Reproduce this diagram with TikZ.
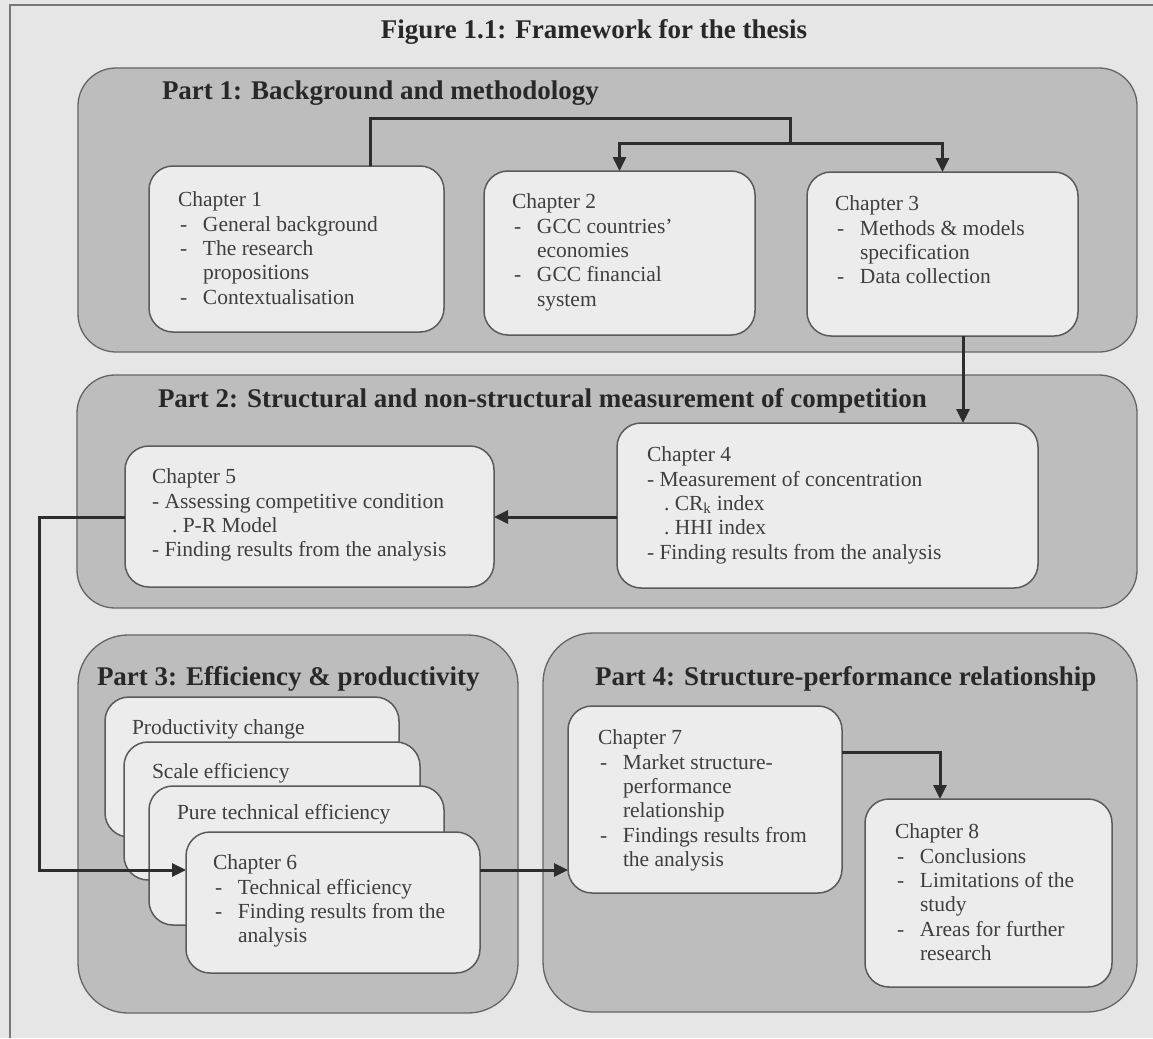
\documentclass[tikz,border=0pt]{standalone}
\usepackage{fontspec}
\setmainfont{Liberation Serif}
\usetikzlibrary{arrows.meta}
\definecolor{pagebg}{RGB}{230,230,230}
\definecolor{panelfill}{RGB}{189,189,189}
\definecolor{boxfill}{RGB}{236,236,236}
\definecolor{boxline}{RGB}{90,90,90}
\definecolor{panelline}{RGB}{100,100,100}
\definecolor{conncol}{RGB}{45,45,45}
\definecolor{txtcol}{RGB}{62,62,62}
\definecolor{headcol}{RGB}{40,40,40}
\definecolor{framecol}{RGB}{120,120,120}
\newcommand\Bdash{\makebox[25pt][l]{\hspace{2pt}-}}
\newcommand\Bcont{\makebox[25pt]{}}
\begin{document}
\begin{tikzpicture}[x=1pt,y=-1pt,
  panel/.style={draw=panelline, fill=panelfill, line width=1.3pt, rounded corners=38pt, inner sep=0pt, outer sep=0pt, anchor=north west},
  bigpanel/.style={panel, rounded corners=50pt},
  chbox/.style={draw=boxline, fill=boxfill, line width=1.5pt, rounded corners=24pt, inner sep=0pt, outer sep=0pt, anchor=north west},
  chtext/.style={anchor=north west, align=left, inner sep=0pt, outer sep=0pt, text=txtcol, font=\fontsize{21.5}{24.3}\selectfont},
  lbl/.style={anchor=base west, inner sep=0pt, outer sep=0pt, text=txtcol, font=\fontsize{21.5}{24.3}\selectfont},
  head/.style={anchor=base west, inner sep=0pt, outer sep=0pt, text=headcol, font=\bfseries\fontsize{27}{31}\selectfont},
  conn/.style={draw=conncol, line width=3pt},
  arr/.style={conn, -{Triangle[width=13pt,length=14pt]}}
]
\useasboundingbox (0,0) rectangle (1153,1038);
\fill[pagebg] (0,0) rectangle (1153,1038);
\draw[framecol, line width=1.5pt] (10,1038) -- (10,5) -- (1153,5);

% title
\node[anchor=base, inner sep=0pt, text=headcol, font=\bfseries\fontsize{27}{31}\selectfont] (title) at (594,39) {Figure 1.1: Framework for the thesis};

% panels
\node[panel, minimum width=1059pt, minimum height=284pt] (p1) at (78,68) {};
\node[panel, minimum width=1060pt, minimum height=233pt] (p2) at (77,375) {};
\node[bigpanel, minimum width=440pt, minimum height=378pt] (p3) at (78,635) {};
\node[bigpanel, minimum width=594pt, minimum height=379pt] (p4) at (543,633) {};

\node[head] (h1) at (162,100) {Part 1: Background and methodology};
\node[head] (h2) at (158,407) {Part 2: Structural and non-structural measurement of competition};
\node[head] (h3) at (97,685) {Part 3: Efficiency \& productivity};
\node[head] (h4) at (595,685) {Part 4: Structure-performance relationship};

% chapter boxes
\node[chbox, minimum width=295pt, minimum height=166pt] (ch1) at (149,166) {};
\node[chbox, minimum width=271pt, minimum height=164pt] (ch2) at (484,171) {};
\node[chbox, minimum width=271pt, minimum height=164pt] (ch3) at (807,172) {};
\node[chbox, minimum width=421pt, minimum height=165pt] (ch4) at (617,423) {};
\node[chbox, minimum width=369pt, minimum height=141pt] (ch5) at (125,446) {};
\node[chbox, minimum width=294pt, minimum height=140pt] (prod) at (105,697) {};
\node[chbox, minimum width=296pt, minimum height=138pt] (scale) at (124,742) {};
\node[chbox, minimum width=295pt, minimum height=139pt] (pure) at (149,786) {};
\node[chbox, minimum width=294pt, minimum height=141pt] (ch6) at (186,832) {};
\node[chbox, minimum width=274pt, minimum height=187pt] (ch7) at (568,706) {};
\node[chbox, minimum width=247pt, minimum height=188pt] (ch8) at (865,799) {};

% texts
\node[chtext] (t1) at (178,192) {Chapter 1\\ \Bdash General background\\ \Bdash The research\\ \Bcont propositions\\ \Bdash Contextualisation};
\node[chtext] (t2) at (512,194) {Chapter 2\\ \Bdash GCC countries'\\ \Bcont economies\\ \Bdash GCC financial\\ \Bcont system};
\node[chtext] (t3) at (835,196) {Chapter 3\\ \Bdash Methods \& models\\ \Bcont specification\\ \Bdash Data collection};
\node[chtext] (t4) at (647,447) {Chapter 4\\ - Measurement of concentration\\ \makebox[17pt]{}.\ CR\textsubscript{k} index\\ \makebox[17pt]{}.\ HHI index\\ - Finding results from the analysis};
\node[chtext] (t5) at (152,469) {Chapter 5\\ - Assessing competitive condition\\ \makebox[20pt]{}.\ P-R Model\\ - Finding results from the analysis};
\node[lbl] (tp) at (132,734) {Productivity change};
\node[lbl] (ts) at (152,778) {Scale efficiency};
\node[lbl] (tq) at (177,819) {Pure technical efficiency};
\node[chtext] (t6) at (213,855) {Chapter 6\\ \Bdash Technical efficiency\\ \Bdash Finding results from the\\ \Bcont analysis};
\node[chtext] (t7) at (598,730) {Chapter 7\\ \Bdash Market structure-\\ \Bcont performance\\ \Bcont relationship\\ \Bdash Findings results from\\ \Bcont the analysis};
\node[chtext] (t8) at (895,824) {Chapter 8\\ \Bdash Conclusions\\ \Bdash Limitations of the\\ \Bcont study\\ \Bdash Areas for further\\ \Bcont research};

% connectors
\coordinate (a1) at (370,119);
\coordinate (j1) at (790,143);
\draw[conn] (ch1.north -| a1) -- (a1) -- (a1 -| j1) -- (j1);
\draw[arr] (j1) -| (ch2.north);
\draw[arr] (j1) -| (ch3.north);
\coordinate (k4) at (963,380);
\draw[arr] (ch3.south -| k4) -- (ch4.north -| k4);
\coordinate (r5) at (560,517);
\draw[arr] (ch4.west |- r5) -- (ch5.east |- r5);
\coordinate (lp1) at (39,517);
\coordinate (lp2) at (39,870);
\draw[arr] (ch5.west |- lp1) -- (lp1) -- (lp2) -- (ch6.west |- lp2);
\draw[arr] (ch6.east |- lp2) -- (ch7.west |- lp2);
\coordinate (c8) at (940,752);
\draw[arr] (ch7.east |- c8) -- (c8) -- (ch8.north -| c8);
\end{tikzpicture}
\end{document}
